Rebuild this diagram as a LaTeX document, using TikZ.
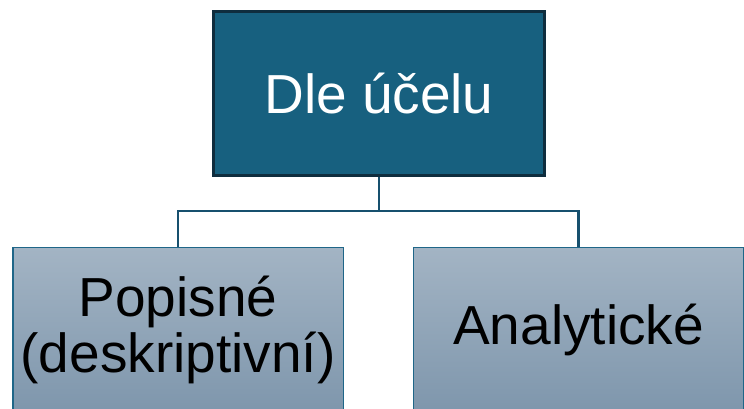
\documentclass[tikz,border=0pt]{standalone}
\usepackage{fontspec}
\setmainfont{Liberation Sans}
\usetikzlibrary{positioning}
\definecolor{topfill}{HTML}{17607F}
\definecolor{topline}{HTML}{0F2D3E}
\definecolor{linkcol}{HTML}{17506E}
\definecolor{subline}{HTML}{1F6688}
\definecolor{subtop}{HTML}{A3B4C4}
\definecolor{subbot}{HTML}{7E96AC}
\tikzset{%
  block/.style    = {draw=topline, line width=3pt, fill=topfill, text=white,
    rectangle, minimum width=331pt, minimum height=164pt,
    font=\fontsize{55}{56}\selectfont}, % Root
  subblock/.style = {draw=subline, line width=1.5pt, rectangle,
    top color=subtop, bottom color=subbot, text=black, align=center,
    minimum width=330.5pt, minimum height=166pt, anchor=north,
    font=\fontsize{55}{56}\selectfont}, % Children
  link/.style     = {draw=linkcol, line width=2.6pt}
}
\begin{document}
\begin{tikzpicture}[x=1pt, y=-1pt]
  \useasboundingbox (0,0) rectangle (744,408);
  \clip (0,0) rectangle (744,408);

  \draw node at (379,93.5) [block] (ucel) {Dle účelu};
  \draw node at (178,246.5) [subblock] (popis) {Popisné\\(deskriptivní)};
  \draw node at (578.5,246.5) [subblock] (analyt) {Analytické};

  \coordinate (fork) at (379,211);
  \draw[link] (ucel.south) -- (fork) -| (popis.north);
  \draw[link] (fork) -| (analyt.north);
\end{tikzpicture}
\end{document}
